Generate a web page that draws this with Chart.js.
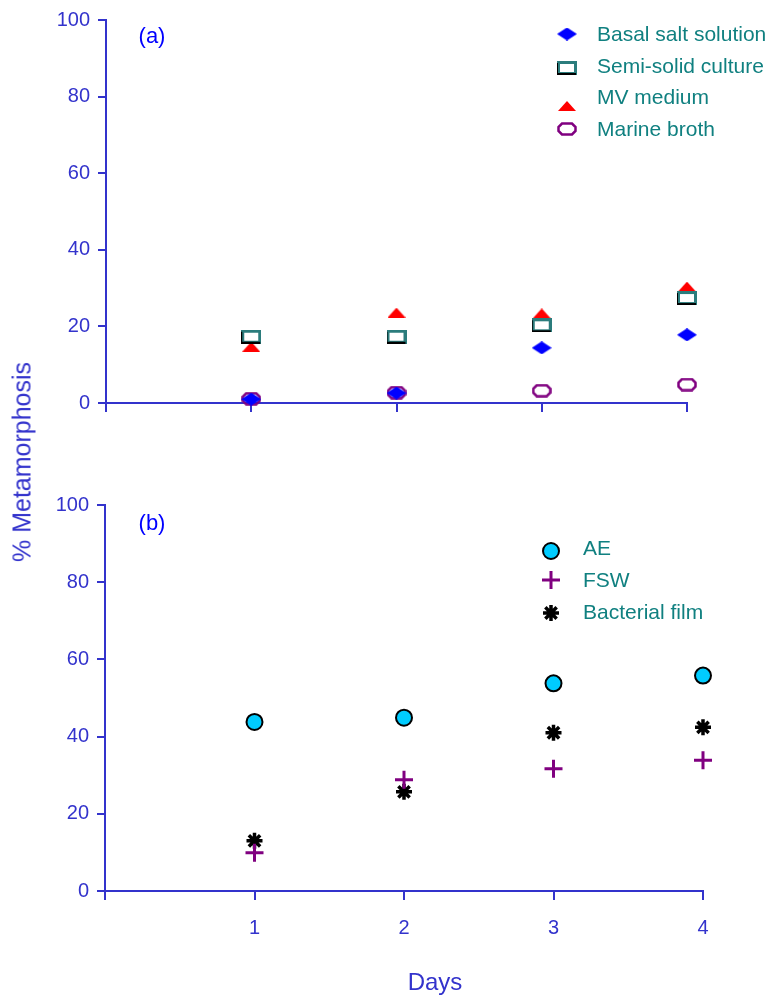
<!DOCTYPE html>
<html>
<head>
<meta charset="utf-8">
<script src="https://cdn.jsdelivr.net/npm/chart.js@4.4.1/dist/chart.umd.min.js"></script>
<style>
  body { margin: 0; background: #fff; width: 777px; height: 997px; position: relative; overflow: hidden;
         font-family: "Liberation Sans", Arial, sans-serif; }
  canvas { position: absolute; left: 0; }
  #chartA { top: 0; }
  #chartB { top: 470px; }
  .lbl { position: absolute; white-space: nowrap; transform: translate(-50%, -50%); }
  #ytitle { left: 22px; top: 462px; font-size: 25px; color: #3333cc; transform: translate(-50%, -50%) rotate(-90deg); }
  #xtitle { left: 435px; top: 982px; font-size: 24px; color: #3333cc; }
  .panel { font-size: 22px; color: #0000ff; }
</style>
</head>
<body>
<canvas id="chartA" width="777" height="440"></canvas>
<canvas id="chartB" width="777" height="527"></canvas>
<div class="lbl panel" style="left:152px;top:36px;">(a)</div>
<div class="lbl panel" style="left:152px;top:523px;">(b)</div>
<div class="lbl" id="ytitle">% Metamorphosis</div>
<div class="lbl" id="xtitle">Days</div>
<script>
// data
const days = [1, 2, 3, 4];
const dayTicks = [0, 1, 2, 3, 4];
const pctTicks = [0, 20, 40, 60, 80, 100];

// panel (a)
const basalSalt = [1.0, 2.6, 14.4, 17.8];
const semiSolid = [17.3, 17.3, 20.3, 27.4];
const mvMedium = [14.7, 23.6, 23.4, 30.4];
const marineBroth = [1.1, 2.7, 3.2, 4.8];

// panel (b)
const ae = [43.8, 44.9, 53.8, 55.8];
const fsw = [9.9, 28.8, 31.7, 33.9];
const bacterialFilm = [13.0, 25.7, 41.0, 42.4];

const axisColor = '#3333cc';
const legendColor = '#108080';
const family = '"Liberation Sans", Arial, sans-serif';

function pts(arr) {
  return days.map((d, i) => ({ x: d, y: arr[i] }));
}

// little canvases used as point styles
function marker(w, h, draw) {
  const c = document.createElement('canvas');
  c.width = w; c.height = h;
  draw(c.getContext('2d'), w, h);
  return c;
}

const diamond = marker(20, 13, (ctx) => {
  ctx.fillStyle = '#0000ff';
  ctx.beginPath();
  ctx.moveTo(0, 6.5); ctx.lineTo(10, 0); ctx.lineTo(20, 6.5); ctx.lineTo(10, 13);
  ctx.closePath(); ctx.fill();
});

const box = marker(20, 14, (ctx) => {
  ctx.fillStyle = '#fff';
  ctx.fillRect(0, 0, 20, 14);
  ctx.strokeStyle = '#2b7c7c';
  ctx.lineWidth = 3;
  ctx.strokeRect(1.5, 1.5, 17, 11);
  ctx.fillStyle = '#000';
  ctx.fillRect(0, 12, 19, 2);
  ctx.fillRect(0, 2, 1, 11);
});

const triangle = marker(18, 10, (ctx) => {
  ctx.fillStyle = '#ff0000';
  ctx.beginPath();
  ctx.moveTo(0, 10); ctx.lineTo(9, 0); ctx.lineTo(18, 10);
  ctx.closePath(); ctx.fill();
});

const octagon = marker(20, 14, (ctx) => {
  ctx.strokeStyle = '#800080';
  ctx.lineWidth = 2.5;
  ctx.beginPath();
  ctx.moveTo(5, 1.5); ctx.lineTo(15, 1.5); ctx.lineTo(18.5, 5); ctx.lineTo(18.5, 9);
  ctx.lineTo(15, 12.5); ctx.lineTo(5, 12.5); ctx.lineTo(1.5, 9); ctx.lineTo(1.5, 5);
  ctx.closePath(); ctx.stroke();
});

// legend drawn beside the points, marker + label per dataset
const sideLegend = {
  id: 'sideLegend',
  afterDatasetsDraw(chart, args, opts) {
    const ctx = chart.ctx;
    chart.data.datasets.forEach((ds, i) => {
      const o = chart.getDatasetMeta(i).data[0].options;
      ctx.save();
      ctx.fillStyle = o.backgroundColor;
      ctx.strokeStyle = o.borderColor;
      ctx.lineWidth = o.borderWidth;
      Chart.helpers.drawPoint(ctx, o, opts.markerX, opts.markerY[i]);
      ctx.restore();
      ctx.save();
      ctx.fillStyle = legendColor;
      ctx.font = '21px ' + family;
      ctx.textBaseline = 'middle';
      ctx.fillText(ds.label, opts.textX, opts.textY[i]);
      ctx.restore();
    });
  }
};

function panelOptions(p) {
  return {
    responsive: false,
    animation: false,
    layout: { padding: { top: p.top, right: 777 - p.right, left: 0, bottom: 0 } },
    plugins: {
      legend: { display: false },
      tooltip: { enabled: false },
      sideLegend: p.legend
    },
    scales: {
      x: {
        type: 'linear', min: 0, max: 4,
        afterBuildTicks: (s) => { s.ticks = dayTicks.map(v => ({ value: v })); },
        afterFit: (s) => { s.height = p.height - p.bottom; },
        border: { color: axisColor, width: 2 },
        grid: { drawOnChartArea: false, drawTicks: true, tickLength: 9, color: axisColor, lineWidth: 2 },
        ticks: {
          display: p.xLabels, padding: 16, color: axisColor, maxRotation: 0,
          font: { size: 20, family: family },
          callback: (v) => (v === 0 ? '' : v)
        }
      },
      y: {
        min: 0, max: 100,
        afterBuildTicks: (s) => { s.ticks = pctTicks.map(v => ({ value: v })); },
        afterFit: (s) => { s.width = p.left; },
        border: { color: axisColor, width: 2 },
        grid: { drawOnChartArea: false, drawTicks: true, tickLength: 8, color: axisColor, lineWidth: 2 },
        ticks: { padding: 8, color: axisColor, font: { size: 20, family: family } }
      }
    }
  };
}

new Chart(document.getElementById('chartA'), {
  type: 'scatter',
  plugins: [sideLegend],
  data: {
    datasets: [
      { label: 'Basal salt solution', data: pts(basalSalt), pointStyle: diamond, pointRadius: 6, clip: false },
      { label: 'Semi-solid culture', data: pts(semiSolid), pointStyle: box, pointRadius: 6, clip: false },
      { label: 'MV medium', data: pts(mvMedium), pointStyle: triangle, pointRadius: 6, clip: false },
      { label: 'Marine broth', data: pts(marineBroth), pointStyle: octagon, pointRadius: 6, clip: false }
    ]
  },
  options: panelOptions({
    left: 106, right: 687, top: 20, bottom: 403, height: 440, xLabels: false,
    legend: { markerX: 567, textX: 597, markerY: [34, 68, 106, 129], textY: [35, 67, 98, 130] }
  })
});

new Chart(document.getElementById('chartB'), {
  type: 'scatter',
  plugins: [sideLegend],
  data: {
    datasets: [
      { label: 'AE', data: pts(ae), pointStyle: 'circle', pointRadius: 8,
        backgroundColor: '#00ccff', borderColor: '#000', borderWidth: 2, clip: false },
      { label: 'FSW', data: pts(fsw), pointStyle: 'cross', pointRadius: 9,
        backgroundColor: '#800080', borderColor: '#800080', borderWidth: 3, clip: false },
      { label: 'Bacterial film', data: pts(bacterialFilm), pointStyle: 'star', pointRadius: 8,
        backgroundColor: '#000', borderColor: '#000', borderWidth: 3.5, clip: false }
    ]
  },
  options: panelOptions({
    left: 105, right: 703, top: 35, bottom: 421, height: 527, xLabels: true,
    legend: { markerX: 551, textX: 583, markerY: [81, 110, 143], textY: [79, 111, 143] }
  })
});
</script>
</body>
</html>
